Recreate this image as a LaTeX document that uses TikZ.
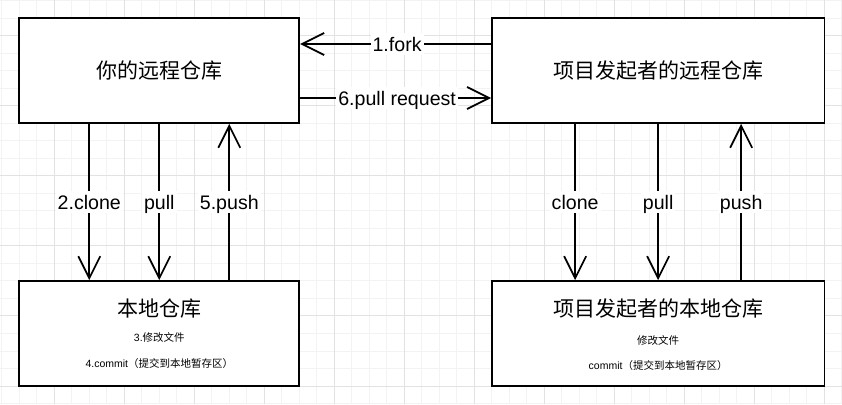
\documentclass[tikz,border=0pt]{standalone}
\usepackage{fontspec}
\setmainfont{Liberation Sans}
\newfontfamily\cjk{Noto Sans CJK SC}
\definecolor{grid_minor}{RGB}{243, 243, 243}
\definecolor{grid_major}{RGB}{226, 226, 226}
\usepackage{tikz}
\usetikzlibrary{arrows.meta, positioning}

\begin{document}
\begin{tikzpicture}[x=1pt, y=1pt, font=\fontsize{19.6}{23}\selectfont,
      repo/.style={draw, line width=1.75pt, fill=white, inner sep=0pt,
                   minimum height=105pt, font=\cjk\fontsize{21}{25}\selectfont},
      head/.style={inner sep=0pt, font=\cjk\fontsize{21}{25}\selectfont},
      note/.style={inner sep=0pt, font=\fontsize{10.5}{13}\selectfont},
      tag/.style={fill=white, inner sep=2pt, text height=17pt, text depth=1pt},
      arr/.style={-{Straight Barb[length=22pt, width=22pt]}, line width=1.75pt}]
      \useasboundingbox (0,0) rectangle (842,404);
      % Grille
      \fill[white] (0,0) rectangle (842,404);
      \foreach \i in {0,...,48}
        \draw[grid_minor, line width=1pt] ({1.8+17.5*\i},0) -- ++(0,404);
      \foreach \i in {0,...,23}
        \draw[grid_minor, line width=1pt] (0,{403-17.5*\i}) -- ++(842,0);
      \foreach \i in {0,...,11}
        \draw[grid_major, line width=1pt] ({54.3+70*\i},0) -- ++(0,404);
      \foreach \i in {0,...,5}
        \draw[grid_major, line width=1pt] (0,{368-70*\i}) -- ++(842,0);
      % Dépôts distants
      \node[repo, minimum width=280pt] (mine)
        at (159.3,333.5) {你的远程仓库};
      \node[repo, minimum width=332.5pt] (origin)
        at (658.15,333.5) {项目发起者的远程仓库};
      % Dépôts locaux
      \node[repo, minimum width=280pt] (mylocal)
        at (159.3,70.5) {};
      \node[head] (mylocaltitle) at (159.3,95) {本地仓库};
      \node[note] (mylocaledit) at (159.3,66.7) {3.{\cjk 修改文件}};
      \node[note] (mylocalcommit) at (159.3,40.3)
        {4.commit{\cjk （提交到本地暂存区）}};
      \node[repo, minimum width=332.5pt] (originlocal)
        at (658.15,70.5) {};
      \node[head] (originlocaltitle) at (658.15,95) {项目发起者的本地仓库};
      \node[note] (originlocaledit) at (658.15,63.5) {\cjk 修改文件};
      \node[note] (originlocalcommit) at (658.15,38.5)
        {commit{\cjk （提交到本地暂存区）}};
      % fork / pull request
      \draw[arr] ([yshift=26.5pt]origin.west) -- ([yshift=26.5pt]mine.east)
        node[tag, midway, xshift=1.5pt] (fork) {1.fork};
      \draw[arr] ([yshift=-27.5pt]mine.east) -- ([yshift=-27.5pt]origin.west)
        node[tag, midway, xshift=1.5pt] (pr) {6.pull request};
      % clone / pull / push
      \draw[arr] ([xshift=-70pt]mine.south) -- ([xshift=-70pt]mylocal.north)
        node[tag, midway] (myclone) {2.clone};
      \draw[arr] (mine.south) -- (mylocal.north)
        node[tag, midway] (mypull) {pull};
      \draw[arr] ([xshift=70pt]mylocal.north) -- ([xshift=70pt]mine.south)
        node[tag, midway] (mypush) {5.push};
      \draw[arr] ([xshift=-83pt]origin.south) -- ([xshift=-83pt]originlocal.north)
        node[tag, midway] (originclone) {clone};
      \draw[arr] (origin.south) -- (originlocal.north)
        node[tag, midway] (originpull) {pull};
      \draw[arr] ([xshift=83pt]originlocal.north) -- ([xshift=83pt]origin.south)
        node[tag, midway] (originpush) {push};
    \end{tikzpicture}
\end{document}
